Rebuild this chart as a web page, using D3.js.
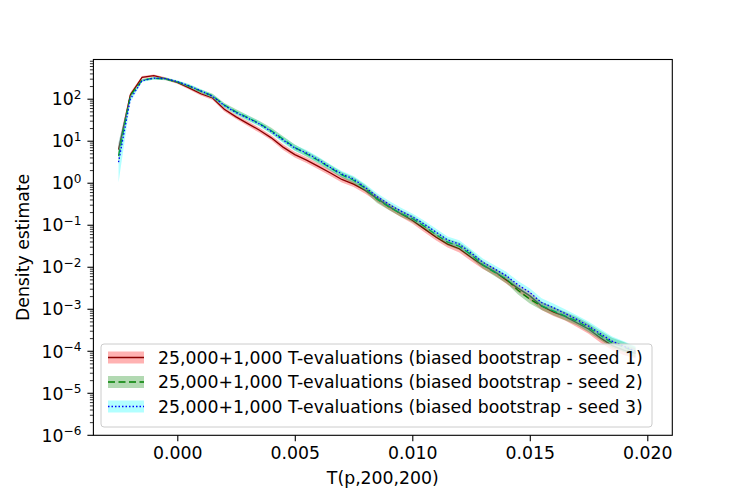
<!DOCTYPE html>
<html><head><meta charset="utf-8">
<script src="https://cdn.jsdelivr.net/npm/d3@7"></script>
<style>body{margin:0;background:#fff}svg{display:block;font-family:"DejaVu Sans",sans-serif}</style>
</head><body><svg id="c" width="747" height="498"></svg>
<script>
// ---- data ----
const tValues = [-0.0025,-0.0020,-0.0015,-0.0010,-0.0005,0.0000,0.0005,0.0010,0.0015,0.0020,0.0025,0.0030,0.0035,0.0040,0.0045,0.0050,0.0055,0.0060,0.0065,0.0070,0.0075,0.0080,0.0085,0.0090,0.0095,0.0100,0.0105,0.0110,0.0115,0.0120,0.0125,0.0130,0.0135,0.0140,0.0145,0.0150,0.0155,0.0160,0.0165,0.0170,0.0175,0.0180,0.0185,0.0190,0.0195];
// log10 of the density estimate
const seed1Log = [0.80,2.10,2.52,2.56,2.49,2.40,2.27,2.13,2.03,1.76,1.58,1.42,1.26,1.08,0.86,0.68,0.55,0.40,0.25,0.09,-0.02,-0.17,-0.36,-0.55,-0.72,-0.88,-1.08,-1.28,-1.45,-1.56,-1.76,-1.95,-2.10,-2.30,-2.50,-2.68,-2.92,-3.06,-3.17,-3.32,-3.47,-3.68,-3.86,-3.97,-4.05];
const seed2Log = [0.65,2.08,2.45,2.50,2.48,2.41,2.31,2.19,2.08,1.86,1.70,1.56,1.42,1.25,1.05,0.85,0.70,0.54,0.37,0.20,0.07,-0.12,-0.38,-0.56,-0.72,-0.84,-1.02,-1.22,-1.40,-1.50,-1.70,-1.94,-2.12,-2.28,-2.55,-2.76,-2.92,-3.04,-3.16,-3.28,-3.44,-3.62,-3.80,-3.90,-4.02];
const seed3Log = [0.50,2.00,2.44,2.50,2.49,2.42,2.32,2.20,2.07,1.85,1.68,1.55,1.41,1.23,1.03,0.84,0.72,0.56,0.38,0.22,0.10,-0.10,-0.32,-0.50,-0.66,-0.80,-0.97,-1.16,-1.35,-1.45,-1.66,-1.88,-2.04,-2.20,-2.42,-2.60,-2.84,-2.96,-3.10,-3.24,-3.40,-3.58,-3.76,-3.88,-4.00];
// half-width of the shaded band, in decades
const seed1Band = [0.15,0.06,0.03,0.03,0.03,0.03,0.04,0.04,0.05,0.05,0.05,0.06,0.06,0.06,0.07,0.07,0.07,0.07,0.07,0.07,0.07,0.08,0.08,0.08,0.08,0.08,0.08,0.08,0.08,0.09,0.09,0.09,0.09,0.09,0.09,0.10,0.10,0.10,0.10,0.10,0.11,0.11,0.11,0.12,0.12];
const seed2Band = [0.20,0.06,0.03,0.03,0.03,0.03,0.04,0.04,0.05,0.05,0.06,0.06,0.06,0.07,0.07,0.07,0.07,0.07,0.07,0.07,0.08,0.08,0.09,0.08,0.08,0.08,0.08,0.08,0.08,0.09,0.09,0.09,0.09,0.10,0.10,0.10,0.10,0.10,0.10,0.10,0.11,0.11,0.12,0.12,0.12];
const seed3Band = [0.48,0.08,0.03,0.03,0.03,0.03,0.04,0.04,0.05,0.05,0.05,0.06,0.06,0.06,0.07,0.07,0.07,0.07,0.07,0.07,0.07,0.08,0.08,0.08,0.08,0.08,0.08,0.08,0.08,0.09,0.09,0.09,0.09,0.09,0.09,0.10,0.10,0.10,0.10,0.10,0.11,0.11,0.11,0.12,0.12];
const seriesLabels = ["25,000+1,000 T-evaluations (biased bootstrap - seed 1)","25,000+1,000 T-evaluations (biased bootstrap - seed 2)","25,000+1,000 T-evaluations (biased bootstrap - seed 3)"];
const xTicks = [0.000,0.005,0.010,0.015,0.020];
const yTickExps = [2,1,0,-1,-2,-3,-4,-5,-6];
const xLabel = "T(p,200,200)";
const yLabel = "Density estimate";

// ---- layout ----
const L=93.4, R=672.3, T=59.5, B=435.3;
const FS=17.3;
const svg=d3.select("#c");
const x=d3.scaleLinear().domain([-0.00357,0.021064]).range([L,R]);
const y=d3.scaleLog().domain([1e-6,Math.pow(10,2.945)]).range([B,T]);

const styles=[
 {line:"#8b0000",fill:"red",dash:null,lw:1.3},
 {line:"green",fill:"green",dash:"7,3.5",lw:1.3},
 {line:"blue",fill:"cyan",dash:"1.5,2",lw:1.3}
];
const logs=[seed1Log,seed2Log,seed3Log];
const bands=[seed1Band,seed2Band,seed3Band];

svg.append("clipPath").attr("id","pc").append("rect").attr("x",L).attr("y",T).attr("width",R-L).attr("height",B-T);
const plot=svg.append("g").attr("clip-path","url(#pc)");

logs.forEach((lg,i)=>{
  const pts=tValues.map((t,j)=>({t,v:Math.pow(10,lg[j]),lo:Math.pow(10,lg[j]-bands[i][j]),hi:Math.pow(10,lg[j]+bands[i][j])}));
  plot.append("path").datum(pts)
    .attr("d",d3.area().x(d=>x(d.t)).y0(d=>y(d.lo)).y1(d=>y(d.hi)))
    .attr("fill",styles[i].fill).attr("fill-opacity",0.3).attr("stroke","none");
  plot.append("path").datum(pts)
    .attr("d",d3.line().x(d=>x(d.t)).y(d=>y(d.v)))
    .attr("fill","none").attr("stroke",styles[i].line).attr("stroke-width",styles[i].lw)
    .attr("stroke-dasharray",styles[i].dash);
});

// x axis
const xa=svg.append("g").attr("transform",`translate(0,${B})`)
  .call(d3.axisBottom(x).tickValues(xTicks).tickFormat(d3.format(".3f")).tickSize(6).tickPadding(5));
xa.select(".domain").remove();
xa.selectAll("line").attr("stroke","#000").attr("stroke-width",1.1);
xa.selectAll("text").attr("font-size",FS).attr("font-family","DejaVu Sans").attr("fill","#000");

// y axis
const ya=svg.append("g").attr("transform",`translate(${L},0)`);
const minor=[];
for(let e=-6;e<3;e++){for(let m=2;m<10;m++){const v=m*Math.pow(10,e);if(v<=y.domain()[1])minor.push(v);}}
ya.selectAll("line.minor").data(minor).enter().append("line")
  .attr("x1",0).attr("x2",-3.5).attr("y1",d=>y(d)).attr("y2",d=>y(d)).attr("stroke","#000").attr("stroke-width",0.8);
const maj=ya.selectAll("g.maj").data(yTickExps).enter().append("g").attr("transform",d=>`translate(0,${y(Math.pow(10,d))})`);
maj.append("line").attr("x1",0).attr("x2",-6).attr("stroke","#000").attr("stroke-width",1.1);
const tx=maj.append("text").attr("x",-12).attr("y",0).attr("dy","0.36em").attr("text-anchor","end").attr("font-size",FS).attr("fill","#000");
tx.append("tspan").text("10");
tx.append("tspan").attr("dy","-0.55em").attr("font-size",FS*0.7).text(d=>(d<0?"\u2212":"")+Math.abs(d));

// frame
svg.append("rect").attr("x",L).attr("y",T).attr("width",R-L).attr("height",B-T).attr("fill","none").attr("stroke","#000").attr("stroke-width",1.1);

// axis labels
svg.append("text").attr("x",(L+R)/2).attr("y",484).attr("text-anchor","middle").attr("font-size",FS).text(xLabel);
svg.append("text").attr("transform",`translate(29,${(T+B)/2}) rotate(-90)`).attr("text-anchor","middle").attr("font-size",FS).text(yLabel);

// legend
const lg=svg.append("g");
lg.append("rect").attr("x",101).attr("y",344).attr("width",551).attr("height",83).attr("rx",3)
  .attr("fill","#fff").attr("fill-opacity",0.8).attr("stroke","#cccccc").attr("stroke-width",1);
seriesLabels.forEach((lab,i)=>{
  const cy=357.5+i*24.5;
  lg.append("rect").attr("x",108).attr("y",cy-6).attr("width",36).attr("height",12).attr("fill",styles[i].fill).attr("fill-opacity",0.3);
  lg.append("line").attr("x1",108).attr("x2",144).attr("y1",cy).attr("y2",cy).attr("stroke",styles[i].line).attr("stroke-width",styles[i].lw).attr("stroke-dasharray",styles[i].dash);
  lg.append("text").attr("x",158).attr("y",cy).attr("dy","0.36em").attr("font-size",FS).text(lab);
});
</script></body></html>
